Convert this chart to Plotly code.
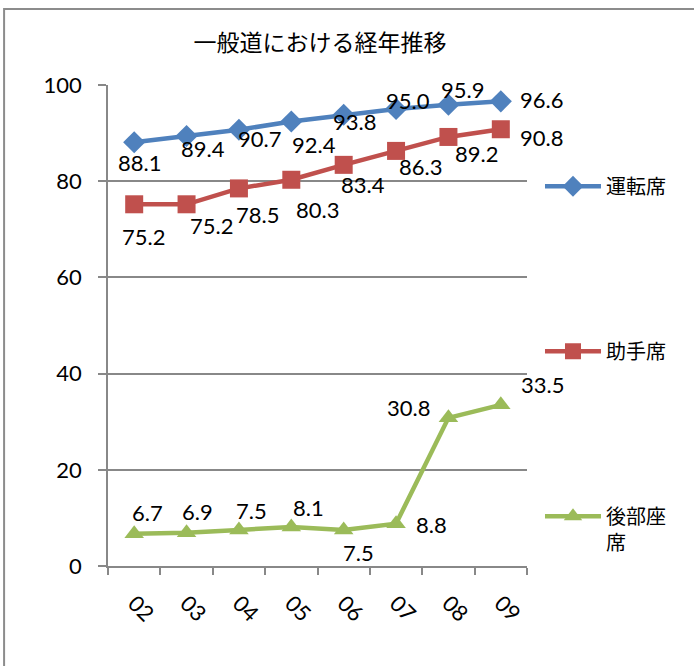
import plotly.graph_objects as go

years = ["02", "03", "04", "05", "06", "07", "08", "09"]
driver = [88.1, 89.4, 90.7, 92.4, 93.8, 95.0, 95.9, 96.6]
passenger = [75.2, 75.2, 78.5, 80.3, 83.4, 86.3, 89.2, 90.8]
rear = [6.7, 6.9, 7.5, 8.1, 7.5, 8.8, 30.8, 33.5]
names = ["運転席", "助手席", "後部座<br>席"]
title = "一般道における経年推移"

# label offsets in pixels (dx right, dy up) - styling only
off_driver = [(5, -20), (16, -13), (21, -9), (23, -23), (11, -7), (12, 9), (14, 15), (41, 2)]
off_pass = [(9, -32), (25, -21), (19, -26), (26, -30), (19, -20), (24, -16), (28, -17), (41, -8)]
off_rear = [(13, 21), (11, 21), (13, 19), (17, 20), (15, -23), (35, -1), (-40, 10), (42, 20)]

colors = ["#4F81BD", "#C0504D", "#9BBB59"]
symbols = ["diamond", "square", "triangle-up"]
msize = [17, 18, 17]
FONT = "Lato, 'Noto Sans CJK JP', sans-serif"
GRID = "#888888"

fig = go.Figure()
series = [driver, passenger, rear]
offsets = [off_driver, off_pass, off_rear]
for i, (vals, nm) in enumerate(zip(series, names)):
    fig.add_trace(go.Scatter(
        x=years, y=vals, name=nm, mode="lines+markers",
        line=dict(color=colors[i], width=4.5),
        marker=dict(symbol=symbols[i], size=msize[i], color=colors[i]),
        legendgroup=f"g{i}",
    ))
    for k, (yv, (dx, dy)) in enumerate(zip(vals, offsets[i])):
        fig.add_annotation(x=k, y=yv, text=f"{yv:.1f}", showarrow=False,
                           xshift=dx, yshift=dy,
                           font=dict(family=FONT, size=22, color="#000000"))

# outer chart frame
fig.add_shape(type="rect", xref="paper", yref="paper",
              x0=-0.248, x1=1.42, y0=-0.25, y1=1.158,
              line=dict(color="#8c8c8c", width=2), fillcolor="rgba(0,0,0,0)",
              layer="below")

fig.update_layout(
    width=694, height=666,
    margin=dict(l=108, r=167, t=85, b=100, autoexpand=False),
    paper_bgcolor="white", plot_bgcolor="white",
    font=dict(family=FONT, size=22, color="#000000"),
    title=dict(text=title, x=320 / 694, xanchor="center", y=1 - 43 / 666,
               yanchor="middle", yref="container",
               font=dict(family="'Noto Sans CJK JP', sans-serif", size=23, color="#000000")),
    showlegend=True,
    legend=dict(x=1.031, xanchor="left", y=0.83, yanchor="top",
                tracegroupgap=136, itemwidth=56, valign="top",
                font=dict(family="'Noto Sans CJK JP', sans-serif", size=20, color="#000000"),
                bgcolor="rgba(0,0,0,0)"),
    xaxis=dict(type="category", range=[-0.5, 7.5], tickson="boundaries",
               ticks="outside", ticklen=7, tickcolor=GRID, tickwidth=1.5,
               showline=True, linecolor=GRID, linewidth=1.5,
               showgrid=False, tickangle=45, zeroline=False,
               ticklabelstandoff=14,
               tickfont=dict(family=FONT, size=22)),
    yaxis=dict(range=[0, 100], dtick=20, ticks="outside", ticklen=8,
               tickcolor=GRID, tickwidth=1.5, showline=True, linecolor=GRID,
               linewidth=1.5, gridcolor=GRID, gridwidth=1.5, zeroline=False,
               ticklabelstandoff=12, tickfont=dict(family=FONT, size=22)),
)

fig.write_html("out.html", config={"displayModeBar": False},
               post_script="document.body.style.margin='0px';")
